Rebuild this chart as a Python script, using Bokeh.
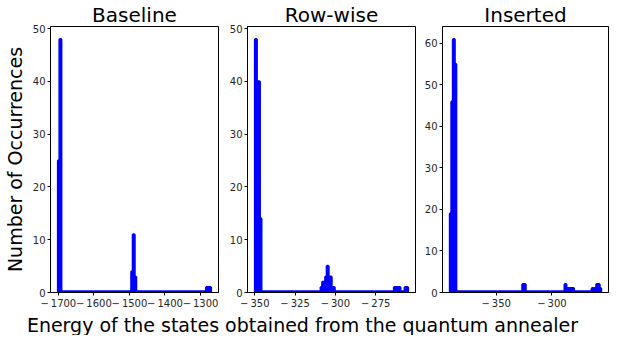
import numpy as np
from bokeh.plotting import figure
from bokeh.layouts import column, row
from bokeh.models import Range1d, FixedTicker, CustomJSTickFormatter, Label
from bokeh.embed import file_html
from bokeh.resources import INLINE

# ---------------- data (histograms, 100 bins each; only non-empty bins listed) -------------
N_BINS = 100

baseline_min, baseline_max = -1700.5, -1271.0
baseline_bins = [0, 1, 48, 49, 50, 97, 98, 99]
baseline_counts = [25, 48, 4, 11, 3, 1, 1, 1]

rowwise_min, rowwise_max = -349.8, -255.0
rowwise_bins = [0, 1, 2, 3, 43, 44, 45, 46, 47, 48, 49, 50, 51, 91, 92, 93, 94, 98, 99]
rowwise_counts = [48, 33, 40, 14, 1, 2, 2, 3, 5, 3, 3, 1, 1, 1, 1, 1, 1, 1, 1]

inserted_min, inserted_max = -391.4, -256.0
inserted_bins = [0, 1, 2, 3, 48, 49, 76, 77, 78, 79, 80, 81, 94, 95, 96, 97, 98, 99]
inserted_counts = [19, 46, 61, 55, 2, 2, 2, 1, 1, 1, 1, 1, 1, 1, 1, 2, 2, 1]

titles = ["Baseline", "Row-wise", "Inserted"]
baseline_xticks = [-1700, -1600, -1500, -1400, -1300]
rowwise_xticks = [-350, -325, -300, -275]
inserted_xticks = [-350, -300]
yticks_50 = [0, 10, 20, 30, 40, 50]
yticks_60 = [0, 10, 20, 30, 40, 50, 60]

x_label = "Energy of the states obtained from the quantum annealer"
y_label = "Number of Occurrences"

BLUE = "#0000ff"
FONT = "DejaVu Sans"
FH = 266


def step_outline(lo, hi, bins, counts):
    edges = np.linspace(lo, hi, N_BINS + 1)
    dense = np.zeros(N_BINS)
    dense[bins] = counts
    xs = [edges[0]]
    ys = [0.0]
    for i in range(N_BINS):
        xs += [edges[i], edges[i + 1]]
        ys += [dense[i], dense[i]]
    xs.append(edges[-1])
    ys.append(0.0)
    return xs, ys, dense.max()


minus_fmt = CustomJSTickFormatter(code="return tick < 0 ? '\\u2212\\u2009' + Math.abs(tick) : tick.toString();")


def make_panel(title, lo, hi, bins, counts, xticks, yticks, fw, left_border, ylab=None):
    xs, ys, cmax = step_outline(lo, hi, bins, counts)
    pad = 0.05 * (hi - lo)
    p = figure(frame_width=fw, frame_height=FH,
               x_range=Range1d(lo - pad, hi + pad), y_range=Range1d(0, cmax * 1.05),
               output_backend="svg", toolbar_location=None,
               min_border_left=left_border, min_border_right=3,
               min_border_top=0, min_border_bottom=0)
    p.patch(xs, ys, fill_color=BLUE, line_color=BLUE, line_width=2.5)
    # outline of the histogram along the zero baseline (stepfilled edge)
    p.line([lo, hi], [0, 0], line_color=BLUE, line_width=4.5)
    p.title.text = title
    p.title.align = "center"
    p.title.text_font = FONT
    p.title.text_font_size = "20px"
    p.title.text_font_style = "normal"
    p.title.text_color = "black"
    p.title.standoff = 0
    p.title.offset = 0
    p.xgrid.visible = False
    p.ygrid.visible = False
    p.outline_line_color = "black"
    p.outline_line_width = 1
    p.outline_line_alpha = 1
    for ax in (p.xaxis[0], p.yaxis[0]):
        ax.major_tick_out = 3
        ax.major_tick_in = 0
        ax.minor_tick_out = 0
        ax.minor_tick_in = 0
        ax.axis_line_color = "black"
        ax.major_tick_line_color = "black"
        ax.major_label_text_font = FONT
        ax.major_label_text_font_size = "10px"
        ax.major_label_text_color = "#262626"
        ax.major_label_standoff = 2
    p.xaxis[0].ticker = FixedTicker(ticks=xticks)
    p.xaxis[0].formatter = minus_fmt
    p.yaxis[0].ticker = FixedTicker(ticks=yticks)
    if ylab:
        p.yaxis[0].axis_label = ylab
        p.yaxis[0].axis_label_text_font = FONT
        p.yaxis[0].axis_label_text_font_size = "19px"
        p.yaxis[0].axis_label_text_font_style = "normal"
        p.yaxis[0].axis_label_text_color = "black"
        p.yaxis[0].axis_label_standoff = 4
    p.background_fill_color = "white"
    p.border_fill_color = "white"
    return p


p1 = make_panel(titles[0], baseline_min, baseline_max, baseline_bins, baseline_counts,
                baseline_xticks, yticks_50, 168, 20, ylab=y_label)
p2 = make_panel(titles[1], rowwise_min, rowwise_max, rowwise_bins, rowwise_counts,
                rowwise_xticks, yticks_50, 168, 26)
p3 = make_panel(titles[2], inserted_min, inserted_max, inserted_bins, inserted_counts,
                inserted_xticks, yticks_60, 166, 24)

lab = figure(width=603, height=24, x_range=Range1d(0, 603), y_range=Range1d(0, 24),
             output_backend="svg", toolbar_location=None, x_axis_type=None, y_axis_type=None,
             min_border=0)
lab.outline_line_color = None
lab.xgrid.visible = False
lab.ygrid.visible = False
lab.add_layout(Label(x=302, y=11, text=x_label, text_align="center", text_baseline="middle",
                     text_font=FONT, text_font_size="19px", text_color="black"))

layout = column(row(p1, p2, p3, spacing=0), lab, spacing=0)

open("out.html", "w").write(file_html(layout, INLINE))
